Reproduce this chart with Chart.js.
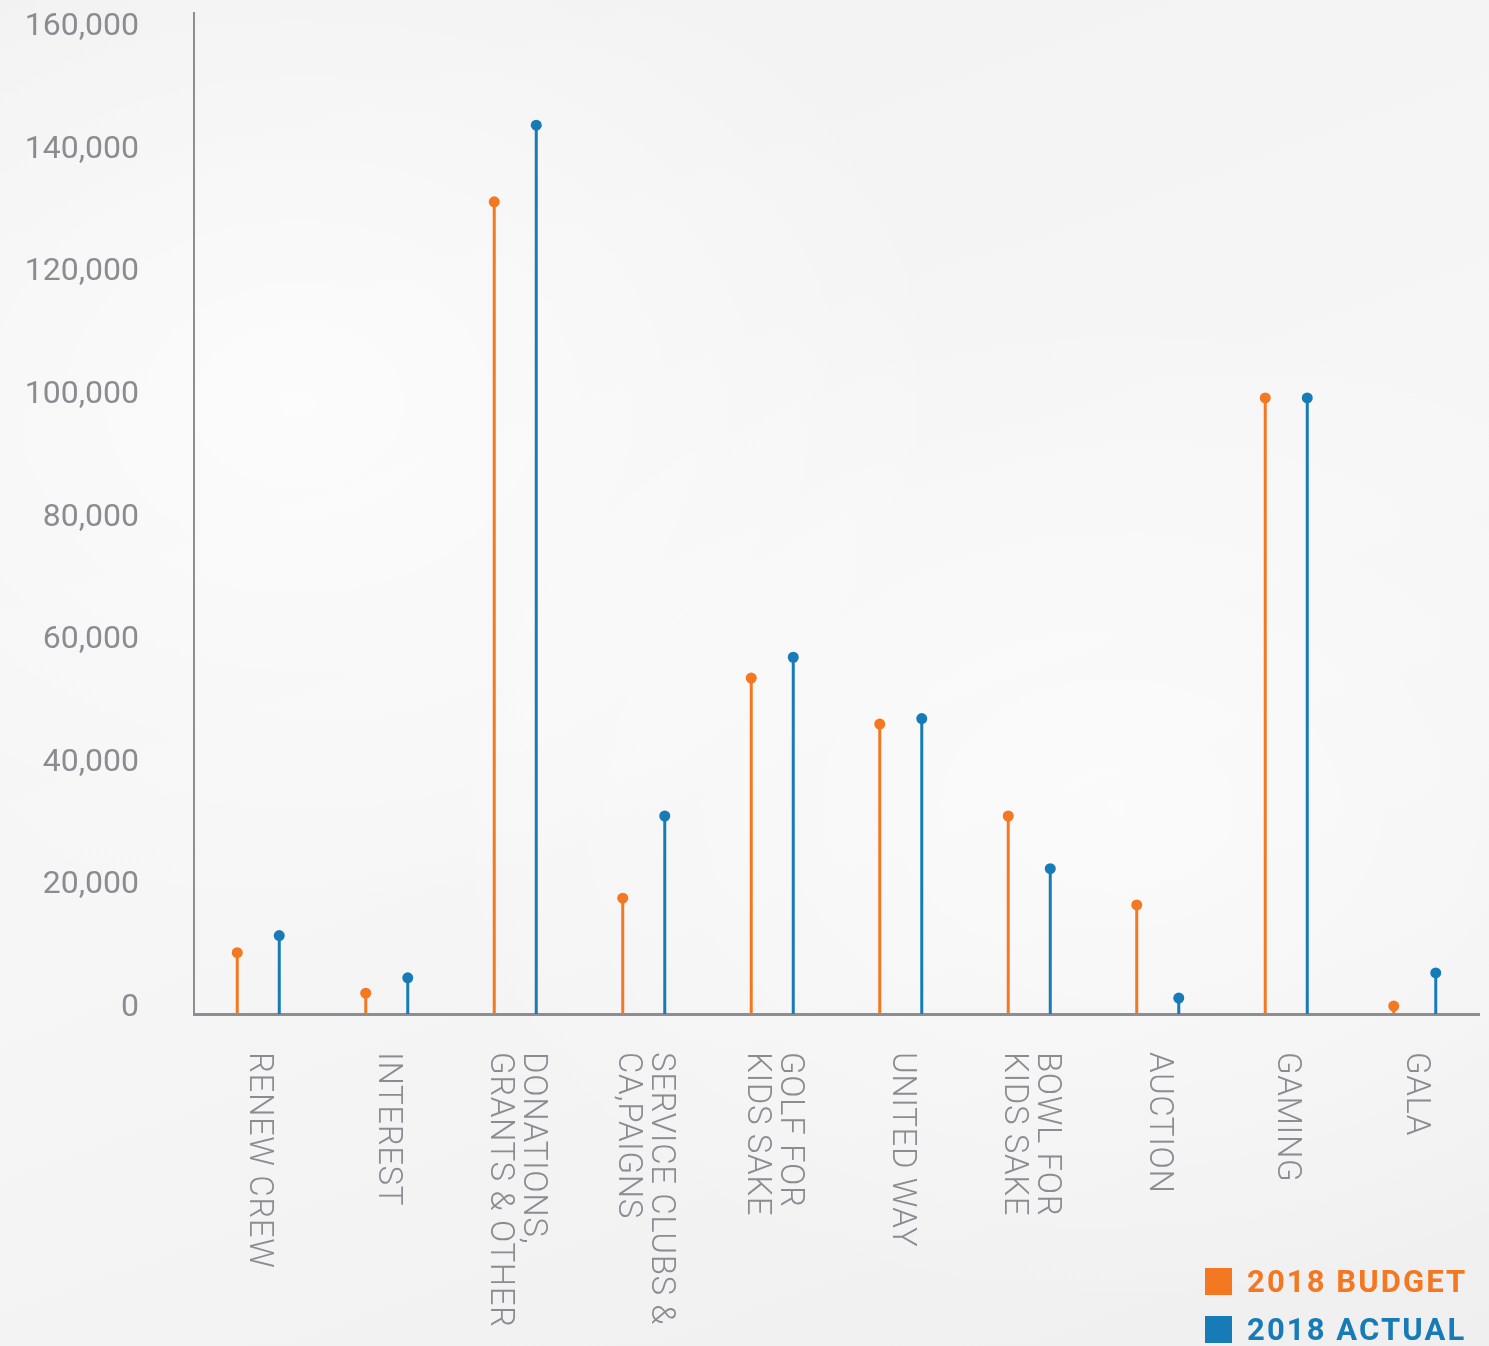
<!DOCTYPE html>
<html>
<head>
<meta charset="utf-8">
<script src="https://cdn.jsdelivr.net/npm/chart.js@4"></script>
<style>
    body { margin: 0; background: #f3f3f3; }
    #wrap {
        position: relative; width: 1489px; height: 1346px; overflow: hidden;
        background:
            radial-gradient(ellipse at 20% 30%, rgba(255,255,255,0.7), rgba(255,255,255,0) 40%),
            radial-gradient(ellipse at 75% 60%, rgba(255,255,255,0.6), rgba(255,255,255,0) 45%),
            linear-gradient(160deg, #f1f1f1, #f6f6f6 50%, #efefef);
    }
    canvas { position: absolute; left: 0; top: 0; }
    .legend { position: absolute; left: 1205px; top: 1264px; font-family: Roboto, sans-serif; font-weight: 700; font-size: 31px; letter-spacing: 2.1px; }
    .legend div { height: 48px; line-height: 36px; white-space: nowrap; }
    .legend span.box { display: inline-block; width: 27px; height: 27px; margin-right: 15px; vertical-align: -3px; }
</style>
</head>
<body>
<div id="wrap">
    <canvas id="canvas" width="1489" height="1346"></canvas>
    <div class="legend" id="legend"></div>
</div>
<script>
// categories (multi-line labels as arrays)
var categories = [
    ['RENEW CREW'],
    ['INTEREST'],
    ['DONATIONS,', 'GRANTS & OTHER'],
    ['SERVICE CLUBS &', 'CA,PAIGNS'],
    ['GOLF FOR', 'KIDS SAKE'],
    ['UNITED WAY'],
    ['BOWL FOR', 'KIDS SAKE'],
    ['AUCTION'],
    ['GAMING'],
    ['GALA']
];
var budget2018 = [10000, 3400, 132500, 18900, 54800, 47300, 32300, 17800, 100500, 1300];
var actual2018 = [12800, 5900, 145000, 32300, 58200, 48200, 23700, 2600, 100500, 6700];
var seriesNames = ['2018 BUDGET', '2018 ACTUAL'];
var seriesColors = ['#f47721', '#167bb6'];
var yTicks = [0, 20000, 40000, 60000, 80000, 100000, 120000, 140000, 160000];
var yTop = 163300;

var axisColor = '#8e8e92';
var labelColor = '#8c8c90';

// dots on top of the thin bars
var lollipopPlugin = {
    id: 'lollipop',
    afterDatasetsDraw: function(chart){
        var ctx = chart.ctx;
        chart.data.datasets.forEach(function(ds, i){
            var meta = chart.getDatasetMeta(i);
            ctx.save();
            ctx.fillStyle = ds.backgroundColor;
            for (var el of meta.data){
                ctx.beginPath();
                ctx.arc(el.x, el.y, 5.5, 0, Math.PI * 2);
                ctx.fill();
            }
            ctx.restore();
        });
    }
};

// x labels rotated to read top to bottom
var xLabelPlugin = {
    id: 'xlabels',
    afterDraw: function(chart){
        var ctx = chart.ctx;
        var xScale = chart.scales.x;
        var top = chart.chartArea.bottom + 38;
        ctx.save();
        ctx.font = '300 33px Roboto';
        ctx.letterSpacing = '0.6px';
        ctx.fillStyle = labelColor;
        ctx.textAlign = 'left';
        ctx.textBaseline = 'middle';
        for (var i = 0; i < categories.length; i++){
            var lines = categories[i];
            var x = xScale.getPixelForValue(i);
            ctx.save();
            ctx.translate(x, top);
            ctx.rotate(Math.PI / 2);
            for (var j = 0; j < lines.length; j++){
                ctx.fillText(lines[j], 0, (j - (lines.length - 1) / 2) * 33);
            }
            ctx.restore();
        }
        ctx.restore();
    }
};

var datasets = [];
var values = [budget2018, actual2018];
for (var i = 0; i < values.length; i++){
    datasets.push({
        label: seriesNames[i],
        data: values[i],
        backgroundColor: seriesColors[i],
        borderWidth: 0,
        categoryPercentage: 0.654,
        barPercentage: 1,
        maxBarThickness: 3
    });
}

var ctx = document.getElementById('canvas').getContext('2d');
var chart = new Chart(ctx, {
    type: 'bar',
    data: {
        labels: categories,
        datasets: datasets
    },
    plugins: [lollipopPlugin, xLabelPlugin],
    options: {
        responsive: false,
        animation: false,
        layout: { padding: { top: 13, right: 10, left: 0, bottom: 0 } },
        plugins: {
            legend: { display: false },
            tooltip: { enabled: false }
        },
        scales: {
            x: {
                grid: { display: false },
                border: { display: true, color: axisColor, width: 3 },
                ticks: { display: false },
                afterFit: function(scale){
                    scale.height = 332;
                    scale.paddingLeft = 0;
                    scale.paddingRight = 0;
                }
            },
            y: {
                min: 0,
                max: yTop,
                grid: { display: false, drawTicks: false },
                border: { display: true, color: axisColor, width: 2 },
                ticks: {
                    autoSkip: false,
                    padding: 55,
                    labelOffset: -6,
                    color: labelColor,
                    font: { family: 'Roboto', size: 32, weight: '400' },
                    callback: function(v){
                        return Number(v).toLocaleString('en-US');
                    }
                },
                afterBuildTicks: function(scale){
                    scale.ticks = yTicks.map(function(v){ return { value: v }; });
                },
                afterFit: function(scale){
                    scale.width = 194;
                    scale.paddingTop = 0;
                    scale.paddingBottom = 0;
                }
            }
        }
    }
});

// legend
var legend = document.getElementById('legend');
for (var i = 0; i < seriesNames.length; i++){
    var row = document.createElement('div');
    row.style.color = seriesColors[i];
    var box = document.createElement('span');
    box.className = 'box';
    box.style.background = seriesColors[i];
    row.appendChild(box);
    row.appendChild(document.createTextNode(seriesNames[i]));
    legend.appendChild(row);
}
</script>
</body>
</html>
